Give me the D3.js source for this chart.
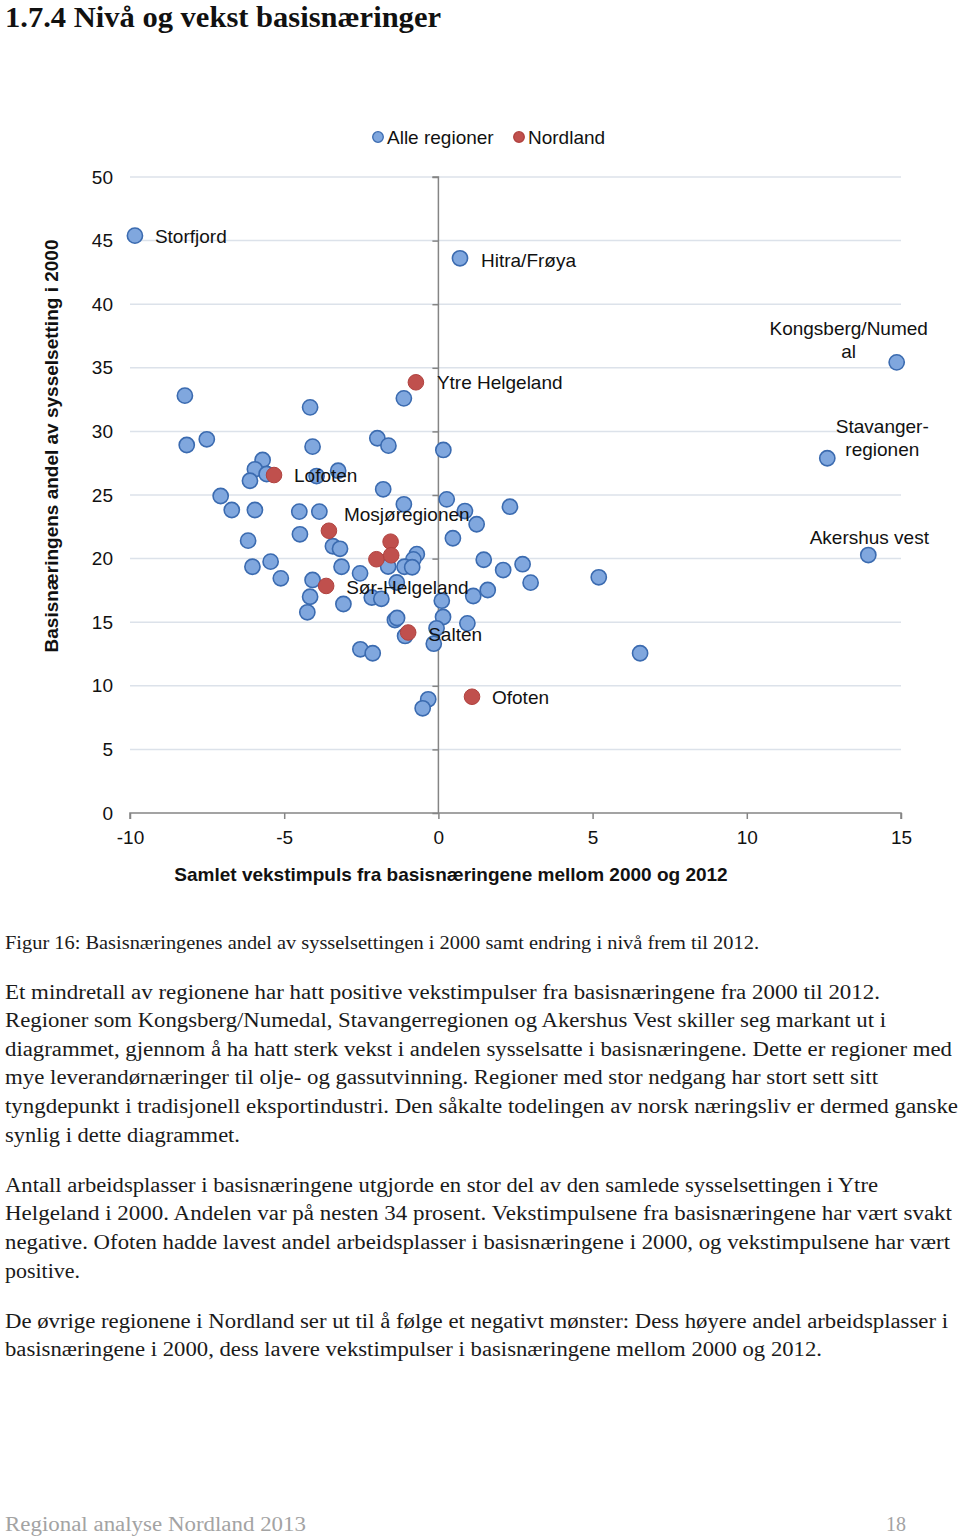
<!DOCTYPE html>
<html><head><meta charset="utf-8">
<script src="https://cdn.jsdelivr.net/npm/d3@7"></script>
<style>body{margin:0;background:#fff}svg{display:block}</style>
</head><body>
<svg id="c" width="960" height="1536"></svg>
<script>
// ---------------- DATA ----------------
const xTicks = [-10, -5, 0, 5, 10, 15];
const yTicks = [0, 5, 10, 15, 20, 25, 30, 35, 40, 45, 50];
const seriesNames = ["Alle regioner", "Nordland"];

const alleNames = ["Storfjord", "Hitra/Frøya", "Kongsberg/Numed\nal", "Stavanger-\nregionen", "Akershus vest"];
const alleX = [-9.84, 0.70, 14.86, 12.61, 13.94, -8.22, -4.16, -1.12, -8.16, -7.51,
  -4.08, -1.98, -1.62, 0.16, -5.70, -5.95, -6.11, -5.57, -3.95, -3.25,
  -1.79, -7.06, -6.70, -5.95, -4.51, -3.86, -1.12, 0.27, 0.86, 2.32,
  1.24, 0.47, -4.49, -6.17, -3.42, -3.19, -0.70, -0.81, -6.03, -5.44,
  -3.14, -2.54, -1.63, -1.10, -0.85, 1.47, 2.10, 2.73, 2.99, 5.20,
  -5.11, -4.08, -1.35, -4.16, -4.25, -3.08, -2.16, -1.85, 0.11, 1.13,
  1.60, -1.41, -1.34, 0.15, 0.94, -1.08, -0.06, -0.15, -2.53, -2.13,
  6.54, -0.33, -0.51];
const alleY = [45.39, 43.61, 35.43, 27.89, 20.28, 32.81, 31.89, 32.60, 28.93, 29.38,
  28.80, 29.46, 28.88, 28.54, 27.75, 27.02, 26.12, 26.65, 26.49, 26.91,
  25.45, 24.92, 23.82, 23.82, 23.69, 23.69, 24.27, 24.66, 23.74, 24.08,
  22.70, 21.60, 21.91, 21.41, 20.97, 20.77, 20.35, 19.94, 19.36, 19.76,
  19.36, 18.84, 19.38, 19.36, 19.32, 19.91, 19.10, 19.56, 18.11, 18.53,
  18.45, 18.32, 18.12, 17.00, 15.78, 16.43, 16.94, 16.84, 16.69, 17.06,
  17.53, 15.17, 15.33, 15.41, 14.91, 13.92, 14.52, 13.31, 12.87, 12.56,
  12.56, 8.94, 8.23];

const nordlandNames = ["Ytre Helgeland", "Lofoten", "Mosjøregionen", "", "", "", "Sør-Helgeland", "Salten", "Ofoten"];
const nordlandX = [-0.73, -5.33, -3.55, -1.55, -2.01, -1.53, -3.64, -0.98, 1.09];
const nordlandY = [33.86, 26.57, 22.19, 21.33, 19.95, 20.26, 17.85, 14.19, 9.14];

const titleText = "1.7.4 Nivå og vekst basisnæringer";
const xTitle = "Samlet vekstimpuls fra basisnæringene mellom 2000 og 2012";
const yTitle = "Basisnæringens andel av sysselsetting i 2000";
const captionText = "Figur 16: Basisnæringenes andel av sysselsettingen i 2000 samt endring i nivå frem til 2012.";
const paragraph1 = [
  "Et mindretall av regionene har hatt positive vekstimpulser fra basisnæringene fra 2000 til 2012.",
  "Regioner som Kongsberg/Numedal, Stavangerregionen og Akershus Vest skiller seg markant ut i",
  "diagrammet, gjennom å ha hatt sterk vekst i andelen sysselsatte i basisnæringene. Dette er regioner med",
  "mye leverandørnæringer til olje- og gassutvinning. Regioner med stor nedgang har stort sett sitt",
  "tyngdepunkt i tradisjonell eksportindustri. Den såkalte todelingen av norsk næringsliv er dermed ganske",
  "synlig i dette diagrammet."];
const paragraph2 = [
  "Antall arbeidsplasser i basisnæringene utgjorde en stor del av den samlede sysselsettingen i Ytre",
  "Helgeland i 2000. Andelen var på nesten 34 prosent. Vekstimpulsene fra basisnæringene har vært svakt",
  "negative. Ofoten hadde lavest andel arbeidsplasser i basisnæringene i 2000, og vekstimpulsene har vært",
  "positive."];
const paragraph3 = [
  "De øvrige regionene i Nordland ser ut til å følge et negativt mønster: Dess høyere andel arbeidsplasser i",
  "basisnæringene i 2000, dess lavere vekstimpulser i basisnæringene mellom 2000 og 2012."];
const footerLeft = "Regional analyse Nordland 2013";
const footerRight = "18";

// ---------------- DRAWING ----------------
const svg = d3.select("#c");
svg.append("rect").attr("width", 960).attr("height", 1536).attr("fill", "#fff");
const sans = "'Liberation Sans', Arial, Helvetica, sans-serif";
const serif = "'Liberation Serif', 'Times New Roman', serif";

const x = d3.scaleLinear().domain([-10, 15]).range([130, 901]);
const y = d3.scaleLinear().domain([0, 50]).range([813, 177]);
const plainNum = d => String(d);

// Title
svg.append("text").attr("x", 5).attr("y", 27).attr("font-family", serif)
  .attr("font-weight", "bold").attr("font-size", 29).attr("fill", "#111")
  .attr("textLength", 436).attr("lengthAdjust", "spacingAndGlyphs").text(titleText);

// Gridlines
svg.append("g").selectAll("line").data(yTicks.filter(d => d > 0)).join("line")
  .attr("x1", x(-10)).attr("x2", x(15)).attr("y1", d => y(d)).attr("y2", d => y(d))
  .attr("stroke", "#dce2ea").attr("stroke-width", 1.5);

// Y axis line at x = 0 with ticks
const yAxisG = svg.append("g").attr("transform", `translate(${x(0)},0)`)
  .call(d3.axisLeft(y).tickValues(yTicks).tickSize(6).tickFormat(""));
yAxisG.selectAll("path,line").attr("stroke", "#858585").attr("stroke-width", 1.5);
yAxisG.select(".domain").attr("d", `M-6,${y(50)}H0V${y(0)}`);

// Y tick labels (low position)
const yLab = svg.append("g").attr("transform", `translate(${x(-10)},0)`)
  .call(d3.axisLeft(y).tickValues(yTicks).tickSize(0).tickPadding(17).tickFormat(plainNum));
yLab.select(".domain").remove();
yLab.selectAll("text").attr("font-family", sans).attr("font-size", 19).attr("fill", "#111");

// X axis
const xAxisG = svg.append("g").attr("transform", `translate(0,${y(0)})`)
  .call(d3.axisBottom(x).tickValues(xTicks).tickSize(6).tickPadding(12).tickFormat(plainNum));
xAxisG.selectAll("path,line").attr("stroke", "#858585").attr("stroke-width", 1.5);
xAxisG.select(".domain").attr("d", `M${x(-10)},6V0H${x(15)}V6`);
xAxisG.selectAll("text").attr("font-family", sans).attr("font-size", 19).attr("fill", "#111");

// Axis titles
svg.append("text").attr("x", 451).attr("y", 881).attr("text-anchor", "middle")
  .attr("font-family", sans).attr("font-weight", "bold").attr("font-size", 19).attr("fill", "#111").text(xTitle);
svg.append("text").attr("transform", "translate(58,446) rotate(-90)").attr("text-anchor", "middle")
  .attr("font-family", sans).attr("font-weight", "bold").attr("font-size", 19).attr("fill", "#111").text(yTitle);

// Points
const blue = { fill: "#80a7de", stroke: "#3b6bb0" };
const red = { fill: "#c0504d", stroke: "#b0413e" };
const alle = alleX.map((v, i) => ({ x: v, y: alleY[i], name: alleNames[i] || "" }));
const nord = nordlandX.map((v, i) => ({ x: v, y: nordlandY[i], name: nordlandNames[i] || "" }));

svg.append("g").selectAll("circle").data(alle).join("circle")
  .attr("cx", d => x(d.x)).attr("cy", d => y(d.y)).attr("r", 7.6)
  .attr("fill", blue.fill).attr("stroke", blue.stroke).attr("stroke-width", 1.6);
svg.append("g").selectAll("circle").data(nord).join("circle")
  .attr("cx", d => x(d.x)).attr("cy", d => y(d.y)).attr("r", 7.8)
  .attr("fill", red.fill).attr("stroke", red.stroke).attr("stroke-width", 1);

// Data labels (placement offsets in px)
const placement = {
  "Storfjord": { dx: 20, dy: 0, anchor: "start" },
  "Hitra/Frøya": { dx: 21, dy: 2, anchor: "start" },
  "Kongsberg/Numed\nal": { dx: -48, dy: -34, anchor: "middle" },
  "Stavanger-\nregionen": { dx: 55, dy: -32, anchor: "middle" },
  "Akershus vest": { dx: 1, dy: -18, anchor: "middle" },
  "Ytre Helgeland": { dx: 21, dy: 0, anchor: "start" },
  "Lofoten": { dx: 20, dy: 0, anchor: "start" },
  "Mosjøregionen": { dx: 15, dy: -17, anchor: "start" },
  "Sør-Helgeland": { dx: 20, dy: 1, anchor: "start" },
  "Salten": { dx: 20, dy: 1, anchor: "start" },
  "Ofoten": { dx: 20, dy: 0, anchor: "start" }
};
const labelled = alle.concat(nord).filter(d => d.name);
const lg = svg.append("g");
labelled.forEach(d => {
  const p = placement[d.name];
  const t = lg.append("text").attr("font-family", sans).attr("font-size", 19).attr("fill", "#111")
    .attr("text-anchor", p.anchor);
  d.name.split("\n").forEach((line, k) => {
    t.append("tspan").attr("x", x(d.x) + p.dx).attr("y", y(d.y) + p.dy + 7 + k * 23).text(line);
  });
});

// Legend
const legend = svg.append("g");
const legItems = [{ name: seriesNames[0], c: blue, cx: 378 }, { name: seriesNames[1], c: red, cx: 519 }];
legItems.forEach(it => {
  legend.append("circle").attr("cx", it.cx).attr("cy", 137).attr("r", 5.3)
    .attr("fill", it.c.fill).attr("stroke", it.c.stroke).attr("stroke-width", 1.3);
  legend.append("text").attr("x", it.cx + 9).attr("y", 144).attr("font-family", sans)
    .attr("font-size", 19).attr("fill", "#111").text(it.name);
});

// Body text
function textLine(str, yy, w, size, color) {
  svg.append("text").attr("x", 5).attr("y", yy).attr("font-family", serif).attr("font-size", size)
    .attr("fill", color || "#1a1a1a").attr("textLength", w).attr("lengthAdjust", "spacingAndGlyphs").text(str);
}
textLine(captionText, 949, 754, 19);
const p1W = [875, 881, 947, 873, 953, 235];
paragraph1.forEach((s, i) => textLine(s, [999, 1027, 1056, 1084, 1113, 1142][i], p1W[i], 20));
const p2W = [873, 947, 945, 75];
paragraph2.forEach((s, i) => textLine(s, [1192, 1220, 1249, 1278][i], p2W[i], 20));
const p3W = [943, 817];
paragraph3.forEach((s, i) => textLine(s, [1328, 1356][i], p3W[i], 20));

// Footer
svg.append("text").attr("x", 5).attr("y", 1531).attr("font-family", serif).attr("font-size", 20)
  .attr("fill", "#a3a3a3").attr("textLength", 301).attr("lengthAdjust", "spacingAndGlyphs").text(footerLeft);
svg.append("text").attr("x", 906).attr("y", 1531).attr("text-anchor", "end").attr("font-family", serif)
  .attr("font-size", 20).attr("fill", "#a3a3a3").text(footerRight);
</script>
</body></html>
